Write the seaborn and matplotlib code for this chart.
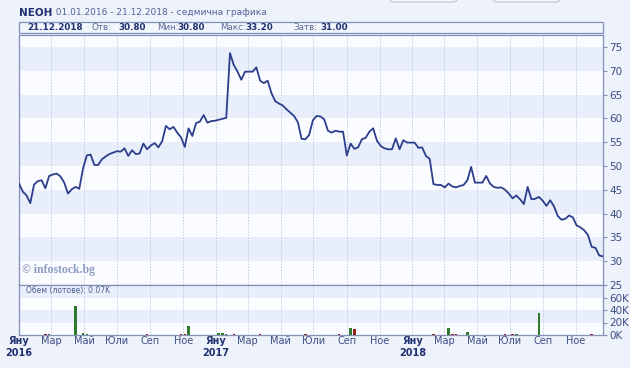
import numpy as np
import pandas as pd
import seaborn as sns
import matplotlib.pyplot as plt
from matplotlib.patches import FancyBboxPatch, Rectangle

# weekly closes, 01.01.2016 - 21.12.2018
price = [46.3, 44.6, 43.8, 42.2, 46.1, 46.8, 47.0, 45.3, 47.9, 48.2,
         48.4, 47.8, 46.5, 44.2, 45.1, 45.6, 45.2, 49.5, 52.2, 52.4,
         50.2, 50.2, 51.4, 52.0, 52.5, 52.8, 53.1, 53.0, 53.7, 52.1,
         53.3, 52.5, 52.6, 54.7, 53.5, 54.3, 54.8, 53.9, 55.2, 58.4,
         57.7, 58.2, 57.0, 56.0, 54.0, 57.9, 56.3, 59.0, 59.3, 60.7,
         59.1, 59.4, 59.5, 59.7, 59.9, 60.1, 73.7, 71.2, 69.8, 68.1,
         69.8, 69.8, 69.8, 70.7, 67.9, 67.4, 67.9, 65.3, 63.6, 63.1,
         62.7, 61.9, 61.2, 60.5, 59.2, 55.7, 55.6, 56.5, 59.6, 60.5,
         60.4, 59.8, 57.4, 57.0, 57.4, 57.2, 57.2, 52.2, 54.7, 53.6,
         53.9, 55.6, 55.9, 57.2, 57.9, 55.3, 54.2, 53.7, 53.5, 53.5,
         55.8, 53.5, 55.4, 54.9, 54.9, 54.9, 53.8, 53.9, 52.1, 51.5,
         46.2, 46.0, 46.0, 45.5, 46.3, 45.7, 45.5, 45.8, 46.0, 47.0,
         49.8, 46.5, 46.5, 46.5, 47.9, 46.3, 45.6, 45.4, 45.5, 45.0,
         44.2, 43.2, 43.8, 43.0, 42.0, 45.6, 43.0, 43.1, 43.5, 42.7,
         41.6, 42.8, 41.5, 39.5, 38.7, 38.9, 39.6, 39.2, 37.5, 37.1,
         36.5, 35.5, 33.0, 32.8, 31.2, 31.0]

# weeks that had trades and their volume in thousands of lots
vol_weeks = [2, 3, 4, 7, 8, 15, 17, 18, 19, 30, 34, 36, 41, 42, 43, 44, 45,
             47, 49, 51, 53, 54, 55, 57, 61, 62, 63, 64, 68, 70, 74, 76, 85,
             88, 89, 91, 110, 112, 114, 115, 116, 119, 129, 131, 132, 138, 152]
vol_values = [0.8, 0.6, 0.8, 1.5, 1.0, 46.0, 2.5, 2.0, 0.8, 0.7, 1.0, 0.6, 0.6,
              0.6, 1.2, 2.0, 15.0, 0.6, 0.6, 0.6, 2.5, 4.0, 2.0, 1.0, 0.6, 0.8,
              0.8, 1.0, 0.5, 0.5, 0.5, 1.0, 1.5, 11.7, 9.6, 0.8, 1.0, 0.8, 10.7,
              2.0, 1.5, 5.3, 2.0, 1.2, 1.0, 35.0, 1.0]

month_names = {1: "Яну", 3: "Мар", 5: "Май", 7: "Юли", 9: "Сеп", 11: "Ное"}
price_ticks = [25, 30, 35, 40, 45, 50, 55, 60, 65, 70, 75]
vol_ticks = [0, 20, 40, 60]
vol_tick_labels = ["0K", "20K", "40K", "60K"]

dates = pd.date_range(end="2018-12-21", periods=len(price), freq="7D")
df = pd.DataFrame({"date": dates, "close": price})
up = [i == 0 or price[i] >= price[i - 1] for i in range(len(price))]

sns.set_theme(style="white")
plt.rcParams["font.family"] = ["DejaVu Sans"]

BG = "#edf2fb"
BAND = "#e8effb"
FRAME = "#8391b8"
GRID = "#c3cbe4"
NAVY = "#1f3170"
LABEL = "#3c4d85"

W, H = 630, 368
fig = plt.figure(figsize=(6.3, 3.68), dpi=100, facecolor=BG)


def fx(px):
    return px / W


def fy(py):
    return 1 - py / H


ax_p = fig.add_axes([fx(19), fy(285), fx(603) - fx(19), fy(35) - fy(285)])
ax_v = fig.add_axes([fx(19), fy(335), fx(603) - fx(19), fy(285) - fy(335)], sharex=ax_p)

for ax in (ax_p, ax_v):
    ax.set_facecolor("#fbfcff")
    for s in ax.spines.values():
        s.set_color(FRAME)
        s.set_linewidth(0.9)

# price bands
for lo in [30, 40, 50, 60, 70]:
    ax_p.axhspan(lo, lo + 5, color=BAND, lw=0, zorder=0)
for lo in [20, 60]:
    ax_v.axhspan(lo, lo + 20, color=BAND, lw=0, zorder=0)

tick_dates = pd.date_range("2016-01-01", "2018-12-01", freq="2MS")
for d in tick_dates:
    for ax in (ax_p, ax_v):
        ax.axvline(d, color=GRID, lw=0.7, ls=(0, (1.5, 1.5)), zorder=1)

sns.lineplot(data=df, x="date", y="close", ax=ax_p, color="#2c3d8c", lw=1.3, zorder=3)

bar_dates = [dates[i] for i in vol_weeks]
bar_colors = ["#2e7a2e" if up[i] else "#9c1f1f" for i in vol_weeks]
ax_v.bar(bar_dates, vol_values, width=4.5, color=bar_colors,
         edgecolor="none", linewidth=0, zorder=3)

ax_p.set_xlim(pd.Timestamp("2016-01-01"), pd.Timestamp("2018-12-21"))
ax_p.set_ylim(25, 77.5)
ax_v.set_ylim(0, 80)

for ax in (ax_p, ax_v):
    ax.set_xlabel("")
    ax.set_ylabel("")
    ax.yaxis.tick_right()
    ax.tick_params(axis="y", which="both", right=True, length=3, width=0.8,
                   color=FRAME, labelsize=7.5, labelcolor=LABEL, pad=1.5)

ax_p.set_yticks(price_ticks)
ax_p.set_yticklabels([str(t) for t in price_ticks])
ax_v.set_yticks(vol_ticks)
ax_v.set_yticklabels(vol_tick_labels)
ax_p.tick_params(axis="x", bottom=False, labelbottom=False)

labels = []
for d in tick_dates:
    if d.month == 1:
        labels.append(month_names[1] + "\n" + str(d.year))
    else:
        labels.append(month_names[d.month])
ax_v.set_xticks(tick_dates)
ax_v.set_xticklabels(labels)
ax_v.tick_params(axis="x", bottom=False, length=0, labelsize=7,
                 labelcolor=LABEL, pad=1)
for lab, d in zip(ax_v.get_xticklabels(), tick_dates):
    lab.set_linespacing(1.25)
    if d.month == 1:
        lab.set_fontweight("bold")
        lab.set_color(NAVY)

# watermark and volume caption
fig.text(fx(22), fy(270), "© infostock.bg", family="Liberation Serif",
         weight="bold", fontsize=8.5, color="#8d9cc2", va="center", ha="left")
fig.text(fx(26), fy(291), "Обем (лотове): 0.07K", fontsize=5.5,
         color="#4f5e8e", va="center", ha="left")

# header
fig.text(fx(19), fy(12.5), "NEOH", fontsize=7.5, weight="bold", color=NAVY, va="center")
fig.text(fx(50), fy(12.5), ": 01.01.2016 - 21.12.2018 - седмична графика",
         fontsize=6.5, color="#56659a", va="center")

# info box
fig.patches.append(Rectangle((fx(19), fy(33)), fx(603) - fx(19), fy(21.5) - fy(33),
                             transform=fig.transFigure, facecolor="#f1f5fc",
                             edgecolor=FRAME, lw=0.9))
info = [(27, "21.12.2018", True), (92, "Отв:", False), (118, "30.80", True),
        (157, "Мин:", False), (177, "30.80", True), (220, "Макс:", False),
        (245, "33.20", True), (293, "Затв:", False), (320, "31.00", True)]
for xp, txt, bold in info:
    fig.text(fx(xp), fy(27.5), txt, fontsize=6.3,
             weight="bold" if bold else "normal",
             color=NAVY if bold else "#5b6a98", va="center", ha="left")

# buttons cut off at the top
for x0, x1 in [(390, 457), (493, 560)]:
    fig.patches.append(FancyBboxPatch((fx(x0), fy(2)), fx(x1) - fx(x0), fy(-10) - fy(2),
                                      boxstyle="round,pad=0,rounding_size=0.008",
                                      transform=fig.transFigure, facecolor="#f4f7fd",
                                      edgecolor="#b9c3da", lw=0.8))

fig.savefig("out.png", dpi=100, facecolor=BG)
